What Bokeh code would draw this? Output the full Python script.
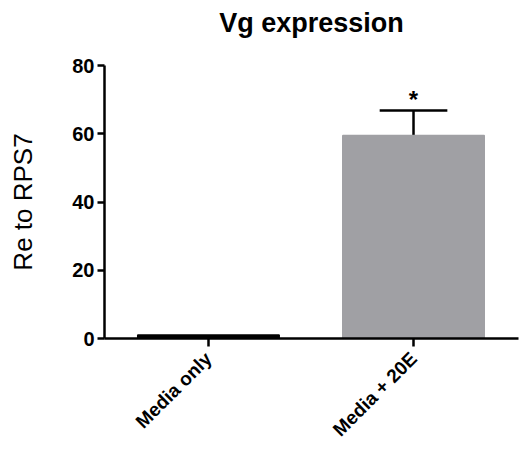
import math
from bokeh.plotting import figure
from bokeh.models import FixedTicker, Range1d, Title
from bokeh.core.properties import value
from bokeh.embed import file_html
from bokeh.resources import INLINE

title_text = "Vg expression"
categories = ["Media only", "Media + 20E"]
means = [1.0, 59.5]
errors = [0.0, 7.3]
bar_colors = ["#000000", "#a0a0a4"]
y_ticks = [0, 20, 40, 60, 80]
significance = ["", "*"]

xs = [i + 1 for i in range(len(categories))]
ex = [x for x, e in zip(xs, errors) if e > 0]
elo = [m - e for m, e in zip(means, errors) if e > 0]
ehi = [m + e for m, e in zip(means, errors) if e > 0]

p = figure(width=521, height=451, output_backend="svg", toolbar_location=None, title=None,
           x_range=Range1d(0.493, 2.512), y_range=Range1d(0, 80),
           min_border_left=104, min_border_right=3, min_border_top=65, min_border_bottom=113)

# spacer between title and frame, then the title itself
p.add_layout(Title(text=" ", text_font_size="1px", standoff=25), "above")
p.add_layout(Title(text=title_text, text_font="Liberation Sans", text_font_size="27px",
                   text_font_style="bold", align="center", standoff=0, text_color="black"), "above")

p.grid.visible = False
p.outline_line_color = None
p.background_fill_color = "white"
p.border_fill_color = "white"

# error bars (drawn beneath bars)
p.segment(x0=ex, x1=ex, y0=elo, y1=ehi, line_color="black", line_width=2.5)
p.segment(x0=[x - 0.165 for x in ex], x1=[x + 0.165 for x in ex],
          y0=ehi, y1=ehi, line_color="black", line_width=2.5)

p.vbar(x=xs, top=means, bottom=0, width=0.69, fill_color=bar_colors, line_color=bar_colors, line_width=1.5)

p.text(x=xs, y=[m + e for m, e in zip(means, errors)], text=significance,
       text_font=value("Liberation Sans"), text_font_size="24px", text_font_style="bold",
       text_align="center", text_baseline="bottom", y_offset=2, text_color="black")

xa = p.xaxis[0]
xa.ticker = FixedTicker(ticks=xs)
xa.major_label_overrides = {x: c for x, c in zip(xs, categories)}
xa.major_label_orientation = math.pi / 4
xa.major_label_text_font = "Liberation Sans"
xa.major_label_text_font_size = "19px"
xa.major_label_text_font_style = "bold"
xa.major_label_text_color = "black"
xa.major_label_standoff = 9
xa.axis_line_width = 2.5
xa.axis_line_color = "black"
xa.major_tick_line_width = 2.5
xa.major_tick_line_color = "black"
xa.major_tick_out = 8
xa.major_tick_in = 0
xa.minor_tick_line_color = None

ya = p.yaxis[0]
ya.ticker = FixedTicker(ticks=y_ticks)
ya.axis_label = "Re to RPS7"
ya.axis_label_text_font = "Liberation Sans"
ya.axis_label_text_font_size = "26px"
ya.axis_label_text_font_style = "normal"
ya.axis_label_text_color = "black"
ya.axis_label_standoff = 31
ya.major_label_text_font = "Liberation Sans"
ya.major_label_text_font_size = "20px"
ya.major_label_text_font_style = "bold"
ya.major_label_text_color = "black"
ya.major_label_standoff = 3
ya.axis_line_width = 2.5
ya.axis_line_color = "black"
ya.major_tick_line_width = 2.5
ya.major_tick_line_color = "black"
ya.major_tick_out = 7
ya.major_tick_in = 0
ya.minor_tick_line_color = None

open("out.html", "w").write(file_html(p, INLINE))
